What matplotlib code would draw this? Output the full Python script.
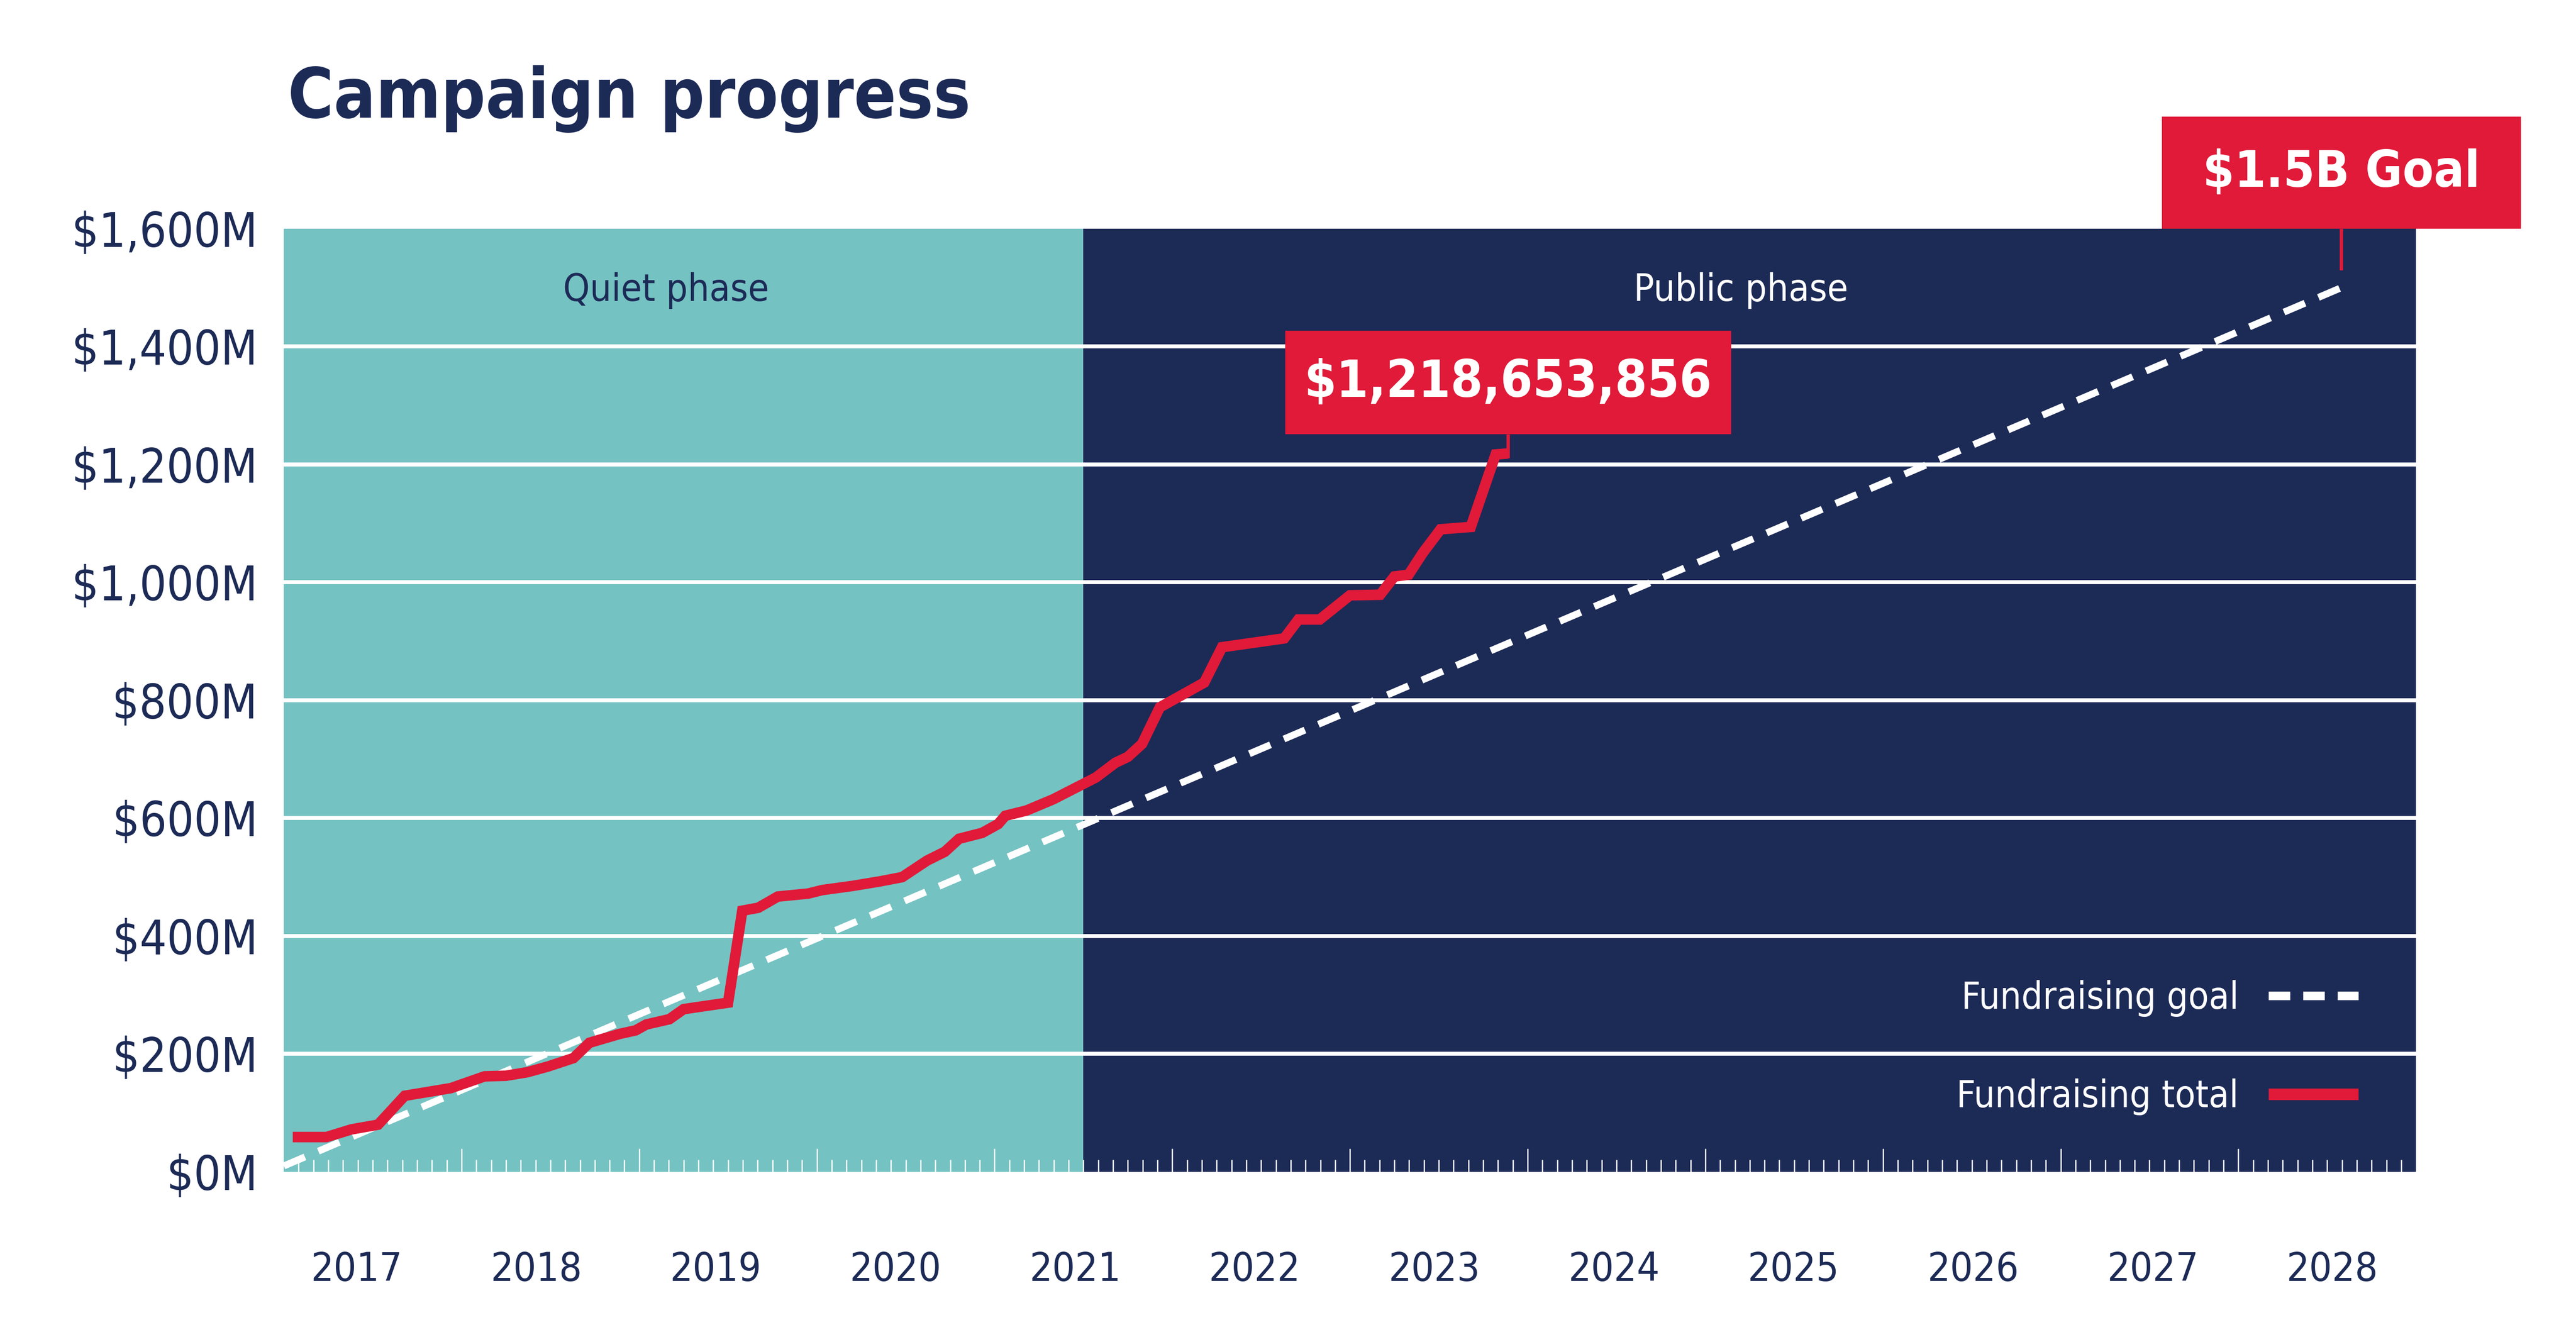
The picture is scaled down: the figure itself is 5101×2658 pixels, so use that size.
import os
import numpy as np
import matplotlib
matplotlib.use('Agg')
from matplotlib import pyplot as plt
from matplotlib import font_manager
from matplotlib.lines import Line2D
from matplotlib.patches import Rectangle
from matplotlib.ticker import FixedLocator, FuncFormatter
import matplotlib.transforms as mtransforms

# colours
NAVY = '#1c2a56'
TEAL = '#75c2c2'
RED = '#e01a38'

# data (x in decimal years, y in $M)
total_x = [2016.55, 2016.74, 2016.88, 2017.03, 2017.18, 2017.44, 2017.63, 2017.75,
           2017.87, 2017.99, 2018.13, 2018.22, 2018.39, 2018.48, 2018.54, 2018.67,
           2018.75, 2019.00, 2019.08, 2019.17, 2019.28, 2019.45, 2019.53, 2019.70,
           2019.86, 2019.98, 2020.12, 2020.22, 2020.30, 2020.43, 2020.52, 2020.56,
           2020.68, 2020.83, 2021.07, 2021.18, 2021.25, 2021.33, 2021.43, 2021.68,
           2021.78, 2022.13, 2022.21, 2022.33, 2022.50, 2022.67, 2022.75, 2022.83,
           2022.91, 2023.01, 2023.18, 2023.32, 2023.39]
total_y = [59, 59, 72, 80, 129, 142, 162, 163,
           169, 179, 193, 219, 234, 240, 250, 259,
           276, 287, 443, 448, 467, 472, 478, 485,
           493, 500, 528, 543, 565, 575, 590, 604,
           613, 632, 669, 694, 704, 726, 788, 830,
           890, 905, 937, 937, 978, 979, 1010, 1013,
           1050, 1090, 1094, 1217, 1218.65]

goal_x = [2016.5, 2028.08]
goal_y = [10, 1500]

phase_split = 2021.0
phase_names = ['Quiet phase', 'Public phase']
years = list(range(2017, 2029))
y_ticks = list(range(0, 1601, 200))

total_label = '$1,218,653,856'
goal_label = '$1.5B Goal'


def font_file(cands):
    files = {os.path.basename(f.fname): f.fname for f in font_manager.fontManager.ttflist}
    for c in cands:
        if c in files:
            return files[c]
    return None


reg_file = font_file(['DejaVuSansCondensed.ttf', 'DejaVuSans.ttf'])
bold_file = font_file(['DejaVuSansCondensed-Bold.ttf', 'DejaVuSans-Bold.ttf'])


def fp(size, bold=False):
    f = bold_file if bold else reg_file
    if f:
        return font_manager.FontProperties(fname=f, size=size)
    return font_manager.FontProperties(family='DejaVu Sans', size=size,
                                       weight='bold' if bold else 'normal')


fig = plt.figure(figsize=(5101 / 300, 2658 / 300), dpi=300)
ax = fig.add_axes([0.1102, 0.1268, 0.8277, 0.7028])
ax.set_xlim(2016.5, 2028.5)
ax.set_ylim(0, 1600)

# phase backgrounds
ax.axvspan(2016.5, phase_split, color=TEAL, lw=0, zorder=0)
ax.axvspan(phase_split, 2028.5, color=NAVY, lw=0, zorder=0)

# grid
ax.set_yticks(y_ticks)
ax.yaxis.grid(True, color='white', lw=1.9)
gls = ax.get_ygridlines()
gls[0].set_visible(False)
gls[-1].set_visible(False)
ax.yaxis.set_major_formatter(FuncFormatter(lambda v, p: f'${v:,.0f}M'))
ax.tick_params(axis='y', length=0, pad=12.5, labelcolor=NAVY)
for lab in ax.get_yticklabels():
    lab.set_fontproperties(fp(22.5))

for s in ax.spines.values():
    s.set_visible(False)

# x ticks: tall ones yearly, short ones monthly
ax.xaxis.set_major_locator(FixedLocator(np.arange(2017.5, 2028.0, 1.0)))
ax.xaxis.set_minor_locator(FixedLocator(np.arange(2016.5 + 1 / 12, 2028.5 - 0.01, 1 / 12)))
ax.tick_params(axis='x', which='both', direction='in', color='white', width=0.6,
               labelbottom=False)
ax.tick_params(axis='x', which='major', length=11)
ax.tick_params(axis='x', which='minor', length=5.8)

trans = mtransforms.blended_transform_factory(ax.transData, ax.transAxes)
for xp, yr in zip(np.linspace(2016.91, 2028.03, len(years)), years):
    ax.text(xp, -0.104, str(yr), transform=trans, ha='center', va='center',
            color=NAVY, fontproperties=fp(19))

# lines
ax.plot(goal_x, goal_y, color='white', lw=3.3, dashes=(3.3, 2.1),
        dash_capstyle='butt', zorder=3)
ax.plot(total_x, total_y, color=RED, lw=5.0, solid_joinstyle='miter',
        solid_capstyle='butt', zorder=4)

# phase labels
ax.text(2018.65, 1495, phase_names[0], ha='center', va='center',
        color=NAVY, fontproperties=fp(18))
ax.text(2024.7, 1495, phase_names[1], ha='center', va='center',
        color='white', fontproperties=fp(18))

# callout boxes
tx, ty = total_x[-1], total_y[-1]
ax.plot([tx, tx], [ty - 8, 1251], color=RED, lw=1.6, zorder=5, solid_capstyle='butt')
ax.add_patch(Rectangle((tx - 1.255, 1251), 2.51, 176, color=RED, lw=0, zorder=6))
ax.text(tx, 1251 + 88, total_label, ha='center', va='center', color='white',
        fontproperties=fp(24.5, bold=True), zorder=7)

gx, gy = goal_x[-1], goal_y[-1]
ax.plot([gx, gx], [gy + 30, 1600], color=RED, lw=1.6, zorder=5,
        solid_capstyle='butt', clip_on=False)
ax.add_patch(Rectangle((gx - 1.01, 1600), 2.02, 190, color=RED, lw=0, zorder=6,
                       clip_on=False))
ax.text(gx, 1600 + 95, goal_label, ha='center', va='center', color='white',
        fontproperties=fp(24, bold=True), zorder=7, clip_on=False)

# legend
handles = [Line2D([], [], color='white', lw=4.1, dashes=(2.5, 1.5), dash_capstyle='butt'),
           Line2D([], [], color=RED, lw=5.5, solid_capstyle='butt')]
ax.legend(handles, ['Fundraising goal', 'Fundraising total'], loc='center right',
          bbox_to_anchor=(0.973, 0.1317), frameon=False, markerfirst=False,
          labelcolor='white', prop=fp(17.8), handlelength=2.4, handletextpad=0.8,
          labelspacing=1.65, borderpad=0, borderaxespad=0)

fig.text(0.1117, 0.9123, 'Campaign progress', color=NAVY, va='baseline',
         fontproperties=fp(33, bold=True))

fig.savefig('out.png', dpi=300, facecolor='white')
